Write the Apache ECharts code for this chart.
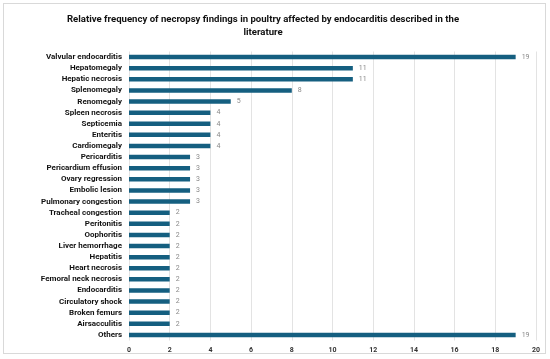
<!DOCTYPE html>
<html><head><meta charset="utf-8">
<script src="https://cdn.jsdelivr.net/npm/echarts@6/dist/echarts.min.js"></script>
<style>html,body{margin:0;padding:0;background:#fff}#c{width:550px;height:359px}
#frame{position:absolute;left:3px;top:3px;width:543px;height:351px;border:1px solid #d9d9d9;box-sizing:border-box;pointer-events:none}</style>
</head><body><div id="c"></div><div id="frame"></div>
<script>
const categories = ["Valvular endocarditis","Hepatomegaly","Hepatic necrosis","Splenomegaly","Renomegaly","Spleen necrosis","Septicemia","Enteritis","Cardiomegaly","Pericarditis","Pericardium effusion","Ovary regression","Embolic lesion","Pulmonary congestion","Tracheal congestion","Peritonitis","Oophoritis","Liver hemorrhage","Hepatitis","Heart necrosis","Femoral neck necrosis","Endocarditis","Circulatory shock","Broken femurs","Airsacculitis","Others"];
const values = [19,11,11,8,5,4,4,4,4,3,3,3,3,3,2,2,2,2,2,2,2,2,2,2,2,19];
const xTicks = [0,2,4,6,8,10,12,14,16,18,20];
const titleText = "Relative frequency of necropsy findings in poultry affected by endocarditis described in the\nliterature";
const chart = echarts.init(document.getElementById('c'));
chart.setOption({
  animation:false,
  title:{text:titleText,left:258,textAlign:'center',top:8,textStyle:{fontFamily:'Roboto',fontWeight:'bold',fontSize:9.6,lineHeight:13,color:'#111'}},
  grid:{left:129,right:14,top:51.5,bottom:18.5,containLabel:false},
  xAxis:{type:'value',min:0,max:20,interval:2,
    axisLine:{show:false},axisTick:{show:false},
    axisLabel:{fontFamily:'Roboto',fontWeight:'bold',fontSize:7,color:'#333',margin:6,formatter:v=>xTicks.includes(v)?String(v):''},
    splitLine:{lineStyle:{color:'#e3e3e3',width:1}}},
  yAxis:{type:'category',data:categories,inverse:true,
    axisLine:{show:false},axisTick:{show:false},
    axisLabel:{fontFamily:'Roboto',fontWeight:'bold',fontSize:8,color:'#111',margin:7}},
  series:[{type:'bar',data:values,barWidth:4.5,itemStyle:{color:'#155f80'},
    label:{show:true,position:'right',distance:6,fontFamily:'Roboto',fontSize:7,color:'#888'}}]
});
</script></body></html>
